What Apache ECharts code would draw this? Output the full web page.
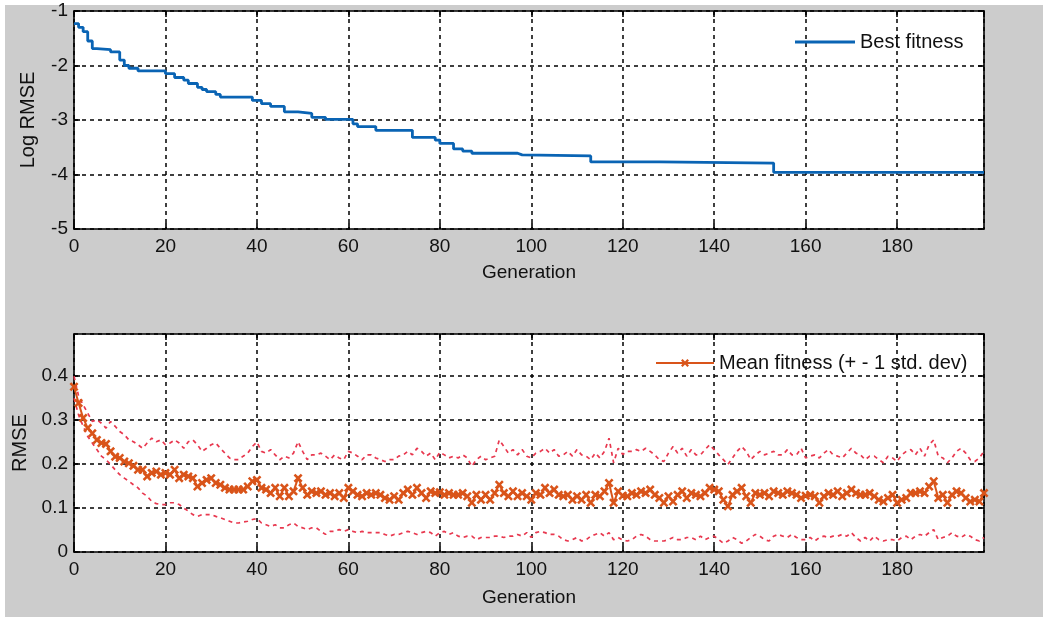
<!DOCTYPE html>
<html>
<head>
<meta charset="utf-8">
<script src="https://cdn.jsdelivr.net/npm/echarts@6/dist/echarts.min.js"></script>
<style>
html,body{margin:0;padding:0;background:#fff;}
#c{width:1043px;height:617px;}
</style>
</head>
<body>
<div id="c"></div>
<script>
// ---- Data ----
const xTickLabels = [0, 20, 40, 60, 80, 100, 120, 140, 160, 180];
const topYTicks = [-5, -4, -3, -2, -1];
const bottomYTicks = [0, 0.1, 0.2, 0.3, 0.4];

// Best fitness (log RMSE): generation where the value changes, and the value
const bestGen = [0, 1, 2, 3, 4, 5, 8, 10, 11, 12, 14, 20, 22, 24, 25, 27, 28, 29, 31, 32, 39, 41, 43, 46, 49, 52, 55, 61, 62, 66, 74, 79, 80, 83, 85, 87, 97, 98, 113, 128, 153, 199];
const bestVal = [-1.23, -1.30, -1.38, -1.55, -1.69, -1.71, -1.75, -1.90, -2.00, -2.05, -2.10, -2.15, -2.22, -2.27, -2.33, -2.40, -2.44, -2.48, -2.53, -2.58, -2.64, -2.70, -2.75, -2.85, -2.88, -2.95, -2.99, -3.07, -3.12, -3.19, -3.32, -3.37, -3.43, -3.53, -3.57, -3.61, -3.64, -3.66, -3.77, -3.79, -3.96, -3.96];

// Mean fitness (RMSE) per generation 0..199
const meanFit = [
0.376,0.339,0.305,0.282,0.270,0.255,0.248,0.246,0.229,0.217,
0.214,0.206,0.202,0.196,0.187,0.187,0.172,0.180,0.183,0.176,
0.180,0.176,0.187,0.168,0.176,0.172,0.168,0.149,0.157,0.164,
0.168,0.157,0.153,0.146,0.142,0.142,0.142,0.142,0.149,0.161,
0.164,0.146,0.142,0.134,0.146,0.127,0.146,0.127,0.138,0.168,
0.146,0.130,0.138,0.134,0.138,0.130,0.134,0.127,0.134,0.123,
0.146,0.138,0.130,0.127,0.134,0.130,0.134,0.130,0.123,0.119,
0.127,0.119,0.134,0.142,0.130,0.146,0.134,0.123,0.138,0.134,
0.136,0.130,0.134,0.130,0.130,0.134,0.127,0.112,0.130,0.119,
0.130,0.119,0.134,0.153,0.134,0.127,0.138,0.127,0.134,0.127,
0.119,0.134,0.130,0.146,0.134,0.142,0.130,0.127,0.130,0.119,
0.127,0.119,0.130,0.112,0.130,0.127,0.138,0.157,0.112,0.138,
0.128,0.127,0.134,0.130,0.138,0.134,0.142,0.130,0.123,0.112,
0.127,0.115,0.130,0.138,0.123,0.134,0.130,0.127,0.134,0.146,
0.142,0.138,0.119,0.104,0.130,0.138,0.146,0.127,0.112,0.134,
0.130,0.134,0.127,0.138,0.134,0.130,0.138,0.134,0.130,0.123,
0.128,0.130,0.127,0.112,0.127,0.134,0.130,0.138,0.127,0.134,
0.142,0.134,0.130,0.130,0.134,0.127,0.119,0.115,0.123,0.130,
0.112,0.119,0.123,0.134,0.134,0.138,0.134,0.149,0.161,0.123,
0.130,0.112,0.130,0.138,0.134,0.123,0.115,0.119,0.115,0.134
];
// Mean + 1 std. dev
const upperFit = [
0.400,0.355,0.335,0.316,0.297,0.301,0.293,0.282,0.297,0.286,
0.274,0.267,0.255,0.251,0.244,0.236,0.248,0.259,0.251,0.255,
0.244,0.248,0.255,0.248,0.236,0.251,0.255,0.244,0.229,0.236,
0.244,0.248,0.236,0.225,0.214,0.210,0.210,0.218,0.225,0.240,
0.250,0.229,0.225,0.233,0.221,0.210,0.218,0.214,0.225,0.251,
0.229,0.210,0.221,0.221,0.225,0.218,0.210,0.221,0.214,0.210,
0.229,0.225,0.218,0.210,0.221,0.221,0.214,0.210,0.206,0.210,
0.210,0.218,0.221,0.229,0.221,0.236,0.229,0.218,0.225,0.210,
0.227,0.221,0.214,0.218,0.214,0.221,0.214,0.195,0.210,0.218,
0.210,0.214,0.218,0.255,0.240,0.225,0.233,0.221,0.233,0.218,
0.214,0.225,0.229,0.236,0.225,0.233,0.218,0.221,0.229,0.218,
0.233,0.221,0.218,0.210,0.225,0.214,0.229,0.259,0.203,0.236,
0.222,0.229,0.229,0.233,0.229,0.236,0.229,0.221,0.210,0.206,
0.225,0.240,0.225,0.236,0.218,0.233,0.221,0.221,0.233,0.244,
0.233,0.221,0.210,0.199,0.214,0.229,0.240,0.229,0.210,0.221,
0.229,0.221,0.225,0.229,0.221,0.221,0.233,0.221,0.221,0.236,
0.214,0.218,0.221,0.214,0.225,0.233,0.221,0.218,0.214,0.225,
0.236,0.225,0.221,0.210,0.218,0.218,0.210,0.203,0.218,0.214,
0.206,0.221,0.229,0.233,0.221,0.236,0.218,0.244,0.255,0.218,
0.214,0.203,0.214,0.229,0.236,0.225,0.210,0.206,0.214,0.229
];
// Mean - 1 std. dev
const lowerFit = [
0.350,0.312,0.286,0.263,0.248,0.233,0.218,0.210,0.199,0.187,
0.176,0.168,0.161,0.153,0.146,0.134,0.127,0.115,0.110,0.108,
0.108,0.112,0.112,0.108,0.100,0.093,0.085,0.081,0.085,0.085,
0.085,0.081,0.078,0.074,0.070,0.066,0.066,0.068,0.070,0.074,
0.076,0.066,0.062,0.058,0.062,0.055,0.055,0.062,0.066,0.058,
0.055,0.051,0.055,0.055,0.047,0.040,0.047,0.047,0.051,0.047,
0.051,0.047,0.044,0.047,0.044,0.044,0.044,0.044,0.040,0.036,
0.040,0.040,0.044,0.047,0.044,0.040,0.044,0.047,0.044,0.036,
0.044,0.047,0.040,0.044,0.036,0.033,0.036,0.036,0.028,0.033,
0.033,0.033,0.036,0.036,0.033,0.036,0.036,0.040,0.036,0.044,
0.033,0.044,0.047,0.044,0.040,0.040,0.036,0.028,0.025,0.028,
0.033,0.025,0.028,0.036,0.040,0.044,0.036,0.044,0.028,0.033,
0.027,0.025,0.028,0.036,0.040,0.036,0.028,0.025,0.025,0.025,
0.028,0.033,0.028,0.028,0.033,0.033,0.028,0.036,0.028,0.033,
0.036,0.028,0.020,0.025,0.033,0.028,0.020,0.025,0.033,0.040,
0.036,0.028,0.025,0.036,0.040,0.036,0.033,0.040,0.033,0.028,
0.028,0.033,0.025,0.033,0.036,0.033,0.036,0.036,0.040,0.036,
0.044,0.033,0.025,0.033,0.025,0.036,0.028,0.025,0.028,0.028,
0.025,0.033,0.036,0.028,0.036,0.040,0.036,0.044,0.051,0.028,
0.033,0.036,0.044,0.036,0.033,0.040,0.036,0.028,0.025,0.033
];

// ---- Styling ----
const FONT = "'Liberation Sans', Arial, sans-serif";
const X_MAX = 199;
const gridDash = { color: '#000', width: 1.5, type: [4, 4] };
const xMark = 'path://M0,2 L2,0 L5,3 L8,0 L10,2 L7,5 L10,8 L8,10 L5,7 L2,10 L0,8 L3,5 Z';

function mainX(gridIndex, name, nameGap) {
  return {
    type: 'value', gridIndex: gridIndex, min: 0, max: X_MAX, interval: 20,
    position: 'bottom',
    name: name, nameLocation: 'middle', nameGap: nameGap,
    nameTextStyle: { fontFamily: FONT, fontSize: 19, color: '#111' },
    axisLine: { show: true, onZero: false, lineStyle: { color: '#000', width: 1.6 } },
    axisTick: { show: true, inside: true, length: 6, lineStyle: { color: '#000', width: 1.6 } },
    axisLabel: { show: true, margin: 8, showMaxLabel: false, fontFamily: FONT, fontSize: 19, color: '#111',
      formatter: function (v) { return xTickLabels.indexOf(v) >= 0 ? String(v) : ''; } },
    splitLine: { show: true, lineStyle: gridDash }
  };
}
function topX(gridIndex) {
  return {
    type: 'value', gridIndex: gridIndex, min: 0, max: X_MAX, interval: 20, position: 'top',
    axisLine: { show: true, onZero: false, lineStyle: { color: '#000', width: 1.6 } },
    axisTick: { show: true, inside: true, length: 6, lineStyle: { color: '#000', width: 1.6 } },
    axisLabel: { show: false }, splitLine: { show: false }
  };
}
function mainY(gridIndex, min, max, interval, ticks, name, nameGap) {
  return {
    type: 'value', gridIndex: gridIndex, min: min, max: max, interval: interval, position: 'left',
    name: name, nameLocation: 'middle', nameGap: nameGap, nameRotate: 90,
    nameTextStyle: { fontFamily: FONT, fontSize: 20, color: '#111' },
    axisLine: { show: true, onZero: false, lineStyle: { color: '#000', width: 1.6 } },
    axisTick: { show: true, inside: true, length: 6, lineStyle: { color: '#000', width: 1.6 } },
    axisLabel: { show: true, margin: 6, fontFamily: FONT, fontSize: 19, color: '#111', showMaxLabel: max === ticks[ticks.length - 1],
      formatter: function (v) {
        for (let i = 0; i < ticks.length; i++) { if (Math.abs(ticks[i] - v) < 1e-9) return String(ticks[i]); }
        return '';
      } },
    splitLine: { show: true, lineStyle: gridDash }
  };
}
function rightY(gridIndex, min, max, interval) {
  return {
    type: 'value', gridIndex: gridIndex, min: min, max: max, interval: interval, position: 'right',
    axisLine: { show: true, onZero: false, lineStyle: { color: '#000', width: 1.6 } },
    axisTick: { show: true, inside: true, length: 6, lineStyle: { color: '#000', width: 1.6 } },
    axisLabel: { show: false }, splitLine: { show: false }
  };
}

const bestData = bestGen.map(function (g, i) { return [g, bestVal[i]]; });
const meanData = meanFit.map(function (v, i) { return [i, v]; });
const upperData = upperFit.map(function (v, i) { return [i, v]; });
const lowerData = lowerFit.map(function (v, i) { return [i, v]; });

const chart = echarts.init(document.getElementById('c'), null, { renderer: 'canvas' });
chart.setOption({
  animation: false,
  backgroundColor: '#ffffff',
  graphic: [{ type: 'rect', z: -100, silent: true, shape: { x: 5, y: 5, width: 1038, height: 612 }, style: { fill: '#cccccc' } }],
  grid: [
    { left: 74, right: 59, top: 11, height: 218, show: true, backgroundColor: '#fff', borderWidth: 0, containLabel: false, outerBoundsMode: 'none' },
    { left: 74, right: 59, top: 334, height: 218, show: true, backgroundColor: '#fff', borderWidth: 0, containLabel: false, outerBoundsMode: 'none' }
  ],
  legend: [
    { left: 795, top: 32, padding: 0, itemWidth: 60, itemHeight: 3, icon: 'rect', data: ['Best fitness'],
      textStyle: { fontFamily: FONT, fontSize: 20, color: '#111' }, backgroundColor: 'transparent', borderWidth: 0 },
    { left: 655, top: 353, padding: 0, itemWidth: 58, itemHeight: 10, data: ['Mean fitness (+ - 1 std. dev)'],
      textStyle: { fontFamily: FONT, fontSize: 20, color: '#111' }, backgroundColor: 'transparent', borderWidth: 0 }
  ],
  xAxis: [ mainX(0, 'Generation', 34), topX(0), mainX(1, 'Generation', 36), topX(1) ],
  yAxis: [
    mainY(0, -5, -1, 1, topYTicks, 'Log RMSE', 36), rightY(0, -5, -1, 1),
    mainY(1, 0, 0.496, 0.1, bottomYTicks, 'RMSE', 40), rightY(1, 0, 0.496, 0.1)
  ],
  series: [
    { name: 'Best fitness', type: 'line', xAxisIndex: 0, yAxisIndex: 0, step: 'end', data: bestData,
      showSymbol: false, symbol: 'none', lineStyle: { color: '#0a64b4', width: 2.8 }, itemStyle: { color: '#0a64b4' } },
    { name: 'upper', type: 'line', xAxisIndex: 2, yAxisIndex: 2, data: upperData, symbol: 'none',
      lineStyle: { color: '#e8384f', width: 1.7, type: [4, 4] } },
    { name: 'lower', type: 'line', xAxisIndex: 2, yAxisIndex: 2, data: lowerData, symbol: 'none',
      lineStyle: { color: '#e8384f', width: 1.7, type: [4, 4] } },
    { name: 'Mean fitness (+ - 1 std. dev)', type: 'line', xAxisIndex: 2, yAxisIndex: 2, data: meanData,
      symbol: xMark, symbolSize: 9, showSymbol: true, showAllSymbol: true,
      lineStyle: { color: '#d9541a', width: 2 }, itemStyle: { color: '#d9541a' } }
  ]
});
</script>
</body>
</html>
